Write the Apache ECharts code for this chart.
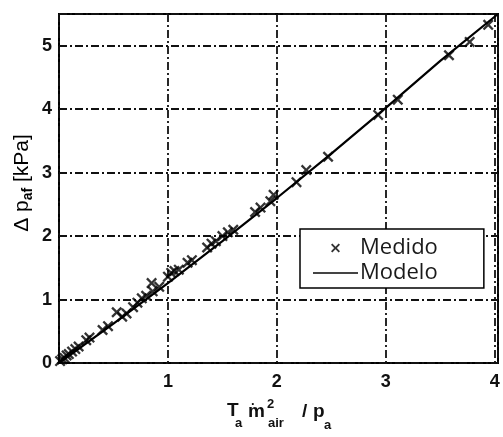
<!DOCTYPE html>
<html>
<head>
<meta charset="utf-8">
<script src="https://cdn.jsdelivr.net/npm/echarts@6/dist/echarts.min.js"></script>
<style>
  html, body { margin: 0; padding: 0; background: #fff; }
  #chart { width: 503px; height: 437px; }
</style>
</head>
<body>
<div id="chart"></div>
<script>
// Measured pressure drop vs. T_a * m_air^2 / p_a
const xMedido = [0.01, 0.03, 0.05, 0.07, 0.09, 0.12, 0.15, 0.18, 0.25, 0.28, 0.40, 0.45, 0.53, 0.58, 0.62, 0.68, 0.72, 0.76, 0.80, 0.85, 0.86, 0.92, 1.00, 1.03, 1.06, 1.10, 1.18, 1.22, 1.36, 1.40, 1.44, 1.50, 1.55, 1.60, 1.80, 1.85, 1.94, 1.97, 2.18, 2.27, 2.47, 2.93, 3.11, 3.58, 3.77, 3.94];
const yMedido = [0.03, 0.06, 0.08, 0.12, 0.14, 0.18, 0.22, 0.26, 0.36, 0.40, 0.52, 0.58, 0.80, 0.73, 0.78, 0.88, 0.95, 1.02, 1.06, 1.26, 1.13, 1.20, 1.36, 1.42, 1.45, 1.47, 1.58, 1.62, 1.82, 1.88, 1.92, 2.00, 2.06, 2.10, 2.38, 2.45, 2.55, 2.65, 2.85, 3.04, 3.25, 3.91, 4.15, 4.85, 5.06, 5.33];

// Model curve
const xModelo = [0, 0.5, 1, 1.5, 2, 2.5, 3, 3.5, 4.03];
const yModelo = [0, 0.62, 1.26, 1.92, 2.60, 3.30, 4.02, 4.76, 5.50];

const xTicks = [1, 2, 3, 4];
const yTicks = [0, 1, 2, 3, 4, 5];

const crossPath = 'path://M0,1.5L1.5,0L5,3.5L8.5,0L10,1.5L6.5,5L10,8.5L8.5,10L5,6.5L1.5,10L0,8.5L3.5,5Z';
const lineIcon = 'path://M0,0L45,0L45,2L0,2Z';
const dashDot = [8, 3, 2, 3];
const tickFont = { fontFamily: 'Liberation Sans', fontWeight: 'bold', fontSize: 18, color: '#111' };

const chart = echarts.init(document.getElementById('chart'), null, { renderer: 'canvas' });

const sub = { fontFamily: 'Liberation Sans', fontWeight: 'bold', fontSize: 13, fill: '#111', verticalAlign: 'middle' };
const big = { fontFamily: 'Liberation Sans', fontWeight: 'bold', fontSize: 19, fill: '#111', verticalAlign: 'middle' };

chart.setOption({
  backgroundColor: '#fff',
  animation: false,
  grid: {
    left: 59, right: 5, top: 14, bottom: 74,
    show: true, borderColor: '#000', borderWidth: 2, backgroundColor: 'transparent'
  },
  xAxis: {
    type: 'value', min: 0, max: 4.03, interval: 1,
    axisLine: { show: false }, axisTick: { show: false },
    splitLine: { show: true, lineStyle: { color: '#111', width: 1.8, type: dashDot } },
    axisLabel: Object.assign({ margin: 10, formatter: v => xTicks.indexOf(v) >= 0 ? String(v) : '' }, tickFont)
  },
  yAxis: {
    type: 'value', min: 0, max: 5.5, interval: 1,
    axisLine: { show: false }, axisTick: { show: false },
    splitLine: { show: true, lineStyle: { color: '#111', width: 1.8, type: dashDot } },
    axisLabel: Object.assign({ margin: 7, formatter: v => yTicks.indexOf(v) >= 0 ? String(v) : '' }, tickFont)
  },
  legend: {
    orient: 'vertical', left: 300, top: 229,
    padding: [7, 46, 3, 13], itemGap: 1, itemWidth: 45, itemHeight: 9,
    backgroundColor: '#fff', borderColor: '#000', borderWidth: 1.5, borderRadius: 0,
    textStyle: { fontFamily: 'Open Sans', fontSize: 22, color: '#1a1a1a', lineHeight: 24, padding: [0, 0, 0, -3] },
    data: [
      { name: 'Medido', icon: crossPath, itemStyle: { color: '#000' } },
      { name: 'Modelo', icon: lineIcon, itemStyle: { color: '#444' } }
    ]
  },
  series: [
    {
      name: 'Modelo', type: 'line', symbol: 'none', z: 2,
      lineStyle: { color: '#000', width: 2.2 },
      itemStyle: { color: '#000' },
      data: xModelo.map((x, i) => [x, yModelo[i]])
    },
    {
      name: 'Medido', type: 'scatter', symbol: crossPath, symbolSize: 11, z: 3,
      itemStyle: { color: '#000' },
      data: xMedido.map((x, i) => [x, yMedido[i]])
    }
  ],
  graphic: [
    // y-axis title: Δ p_af [kPa]
    {
      type: 'text', x: 22, y: 183, rotation: Math.PI / 2,
      style: {
        text: '{b|Δ p}{s|af}{b| [kPa]}',
        align: 'center', verticalAlign: 'middle',
        rich: {
          b: { fontFamily: 'Liberation Sans', fontSize: 21, color: '#111', lineHeight: 26 },
          s: { fontFamily: 'Liberation Sans', fontWeight: 'bold', fontSize: 14, color: '#111', lineHeight: 15, verticalAlign: 'bottom' }
        }
      }
    },
    // x-axis title: T_a ṁ²_air / p_a
    { type: 'text', x: 227, y: 411, style: Object.assign({ text: 'T' }, big) },
    { type: 'text', x: 235, y: 423, style: Object.assign({ text: 'a' }, sub) },
    { type: 'text', x: 248, y: 412, style: Object.assign({ text: 'm' }, big) },
    { type: 'text', x: 251, y: 401, style: Object.assign({ text: '.' }, sub) },
    { type: 'text', x: 267, y: 404, style: Object.assign({ text: '2' }, sub) },
    { type: 'text', x: 268, y: 423, style: Object.assign({ text: 'air' }, sub) },
    { type: 'text', x: 302, y: 412, style: Object.assign({ text: '/' }, big) },
    { type: 'text', x: 313, y: 412, style: Object.assign({ text: 'p' }, big) },
    { type: 'text', x: 324, y: 425, style: Object.assign({ text: 'a' }, sub) }
  ]
});
</script>
</body>
</html>
